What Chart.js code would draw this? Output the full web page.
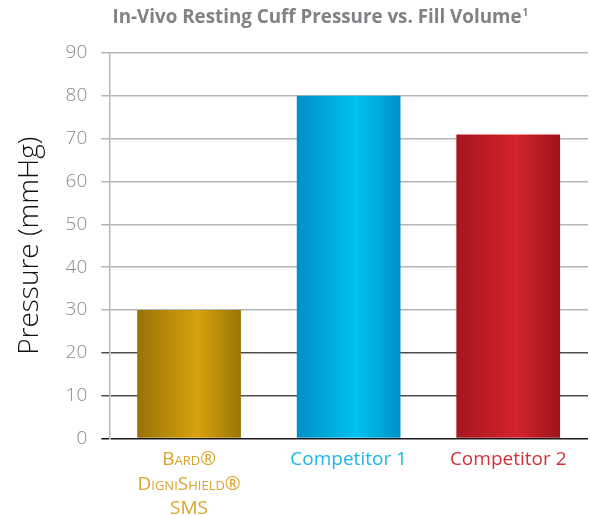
<!DOCTYPE html>
<html>
<head>
<meta charset="utf-8">
<script src="https://cdn.jsdelivr.net/npm/chart.js@4"></script>
<style>
  html, body { margin: 0; padding: 0; background: #fff; }
  #wrap { width: 590px; height: 516px; }
</style>
</head>
<body>
<div id="wrap"><canvas id="myChart" width="590" height="516"></canvas></div>
<script>
const categories = [["Bard®", "DigniShield®", "SMS"], "Competitor 1", "Competitor 2"];
const pressure = [30, 80, 71];
const yTicks = [0, 10, 20, 30, 40, 50, 60, 70, 80, 90];
const titleText = "In-Vivo Resting Cuff Pressure vs. Fill Volume";
const titleNote = "1";

const labelColors = ["#d9a52c", "#1db5ea", "#d5303a"];
const barStops = [
  ["#977204", "#d7a20f", "#9a7405"],
  ["#008fc6", "#00c2f0", "#0090c6"],
  ["#a6161e", "#d4232c", "#9e141b"],
];
const FONT = "'Open Sans', 'Noto Sans', sans-serif";

function barGradient(ctx) {
  const chart = ctx.chart;
  const x = chart.scales.x;
  if (!x || !chart.chartArea) return barStops[ctx.dataIndex][1];
  const cw = x.width / categories.length * 0.65;
  const cx = x.getPixelForValue(ctx.dataIndex);
  const g = chart.ctx.createLinearGradient(cx - cw / 2, 0, cx + cw / 2, 0);
  const s = barStops[ctx.dataIndex];
  g.addColorStop(0, s[0]);
  g.addColorStop(0.58, s[1]);
  g.addColorStop(1, s[2]);
  return g;
}

// title with a superscript footnote mark
const titlePlugin = {
  id: "titleNote",
  afterDraw(chart) {
    const c = chart.ctx;
    c.save();
    c.font = "bold 18.8px " + FONT;
    c.fillStyle = "#808285";
    c.textBaseline = "middle";
    const w = c.measureText(titleText).width;
    const x0 = chart.width / 2 + 22 - w / 2;
    c.fillText(titleText, x0, 18);
    c.font = "bold 10px " + FONT;
    c.fillText(titleNote, x0 + w + 1, 13);
    c.restore();
  }
};

const config = {
  type: "bar",
  data: {
    labels: categories,
    datasets: [{
      data: pressure,
      backgroundColor: barGradient,
      borderWidth: 0,
      barPercentage: 0.65,
      categoryPercentage: 1,
    }],
  },
  options: {
    responsive: false,
    animation: false,
    layout: { padding: { left: 13, right: 2, top: 53, bottom: -14 } },
    plugins: {
      legend: { display: false },
      tooltip: { enabled: false },
    },
    scales: {
      x: {
        grid: { display: false, drawTicks: false },
        border: { display: false },
        ticks: {
          padding: 9,
          color: (c) => labelColors[c.index],
          font: (c) => ({
            family: FONT,
            size: 19,
            lineHeight: 1.29,
            weight: c.index === 0 ? "small-caps 400" : "400",
          }),
        },
      },
      y: {
        min: 0,
        max: 90,
        afterBuildTicks: (axis) => { axis.ticks = yTicks.map((v) => ({ value: v })); },
        border: { color: "#b8b8b8", width: 1.5 },
        grid: {
          lineWidth: 1.5,
          tickLength: 8,
          color: (c) => c.tick.value === 0 ? "#1a1a1a" : (c.tick.value <= 20 ? "#4d4d4d" : "#b5b5b5"),
        },
        ticks: {
          padding: 14,
          color: "#8a8a8a",
          font: { family: FONT, size: 19, weight: "300" },
        },
        title: {
          display: true,
          text: "Pressure (mmHg)",
          color: "#111",
          padding: { top: 0, bottom: 5 },
          font: { family: FONT, size: 28, weight: "300" },
        },
      },
    },
  },
  plugins: [titlePlugin],
};

const ctx = document.getElementById("myChart").getContext("2d");
const myChart = new Chart(ctx, config);
</script>
</body>
</html>
